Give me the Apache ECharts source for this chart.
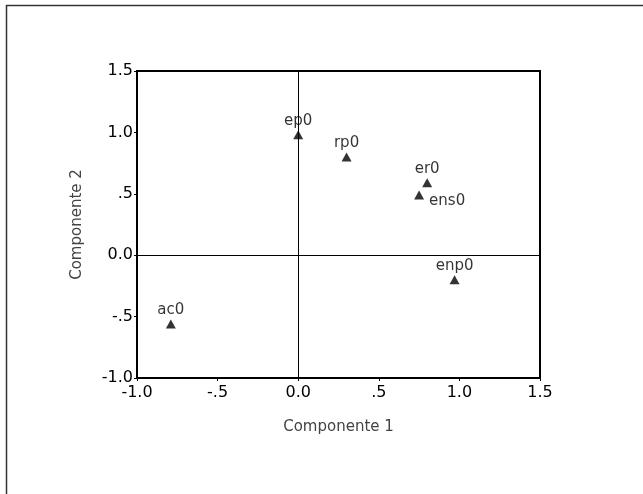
<!DOCTYPE html>
<html>
<head>
<meta charset="utf-8">
<script src="https://cdn.jsdelivr.net/npm/echarts@6/dist/echarts.min.js"></script>
<style>html,body{margin:0;padding:0;background:#fff;}#c{width:643px;height:494px;}</style>
</head>
<body>
<div id="c"></div>
<script>
const names = ['ep0', 'rp0', 'er0', 'ens0', 'enp0', 'ac0'];
const xVals = [0.0, 0.30, 0.80, 0.75, 0.97, -0.79];
const yVals = [0.98, 0.80, 0.59, 0.49, -0.20, -0.56];
const xTickLabels = {'-1': '-1.0', '-0.5': '-.5', '0': '0.0', '0.5': '.5', '1': '1.0', '1.5': '1.5'};
const yTickLabels = {'-1': '-1.0', '-0.5': '-.5', '0': '0.0', '0.5': '.5', '1': '1.0', '1.5': '1.5'};

const chart = echarts.init(document.getElementById('c'), null, {renderer: 'canvas'});
const font = 'DejaVu Sans, Liberation Sans, Arial, sans-serif';
const pts = names.map((n, i) => {
  const d = {value: [xVals[i], yVals[i]], name: n};
  if (n === 'ens0') {
    d.label = {position: 'right', offset: [3, 6]};
  }
  return d;
});
chart.setOption({
  animation: false,
  backgroundColor: '#fff',
  graphic: [
    {type: 'line', shape: {x1: 6.5, y1: 5, x2: 6.5, y2: 494}, style: {stroke: '#333', lineWidth: 1.5}},
    {type: 'line', shape: {x1: 6, y1: 5.5, x2: 643, y2: 5.5}, style: {stroke: '#333', lineWidth: 1.5}}
  ],
  grid: {left: 137, top: 71, right: 103, bottom: 116, show: true, borderColor: '#000', borderWidth: 2, backgroundColor: 'transparent'},
  xAxis: {
    type: 'value', min: -1, max: 1.5, interval: 0.5,
    name: 'Componente 1', nameLocation: 'middle', nameGap: 42,
    nameTextStyle: {color: '#444', fontSize: 15, fontFamily: font},
    axisLine: {show: true, onZero: false, lineStyle: {color: '#000', width: 2}},
    axisTick: {show: true, length: 3, lineStyle: {color: '#000'}},
    axisLabel: {color: '#000', fontSize: 16, fontFamily: font, margin: 7,
      formatter: v => xTickLabels[String(v)] ?? String(v)},
    splitLine: {show: false}
  },
  yAxis: {
    type: 'value', min: -1, max: 1.5, interval: 0.5,
    name: 'Componente 2', nameLocation: 'middle', nameGap: 52,
    nameTextStyle: {color: '#444', fontSize: 15, fontFamily: font},
    axisLine: {show: true, onZero: false, lineStyle: {color: '#000', width: 2}},
    axisTick: {show: true, length: 3, lineStyle: {color: '#000'}},
    axisLabel: {color: '#000', fontSize: 16, fontFamily: font, margin: 4,
      formatter: v => yTickLabels[String(v)] ?? String(v)},
    splitLine: {show: false}
  },
  series: [{
    type: 'scatter',
    symbol: 'triangle',
    symbolSize: [10, 9],
    itemStyle: {color: '#000'},
    label: {show: true, position: 'top', distance: 2, formatter: '{b}', color: '#000', fontSize: 15, fontFamily: font},
    data: pts,
    markLine: {
      silent: true, symbol: 'none', animation: false,
      label: {show: false},
      lineStyle: {color: '#000', width: 1, type: 'solid'},
      data: [{xAxis: 0}, {yAxis: 0}]
    }
  }]
});
</script>
</body>
</html>
